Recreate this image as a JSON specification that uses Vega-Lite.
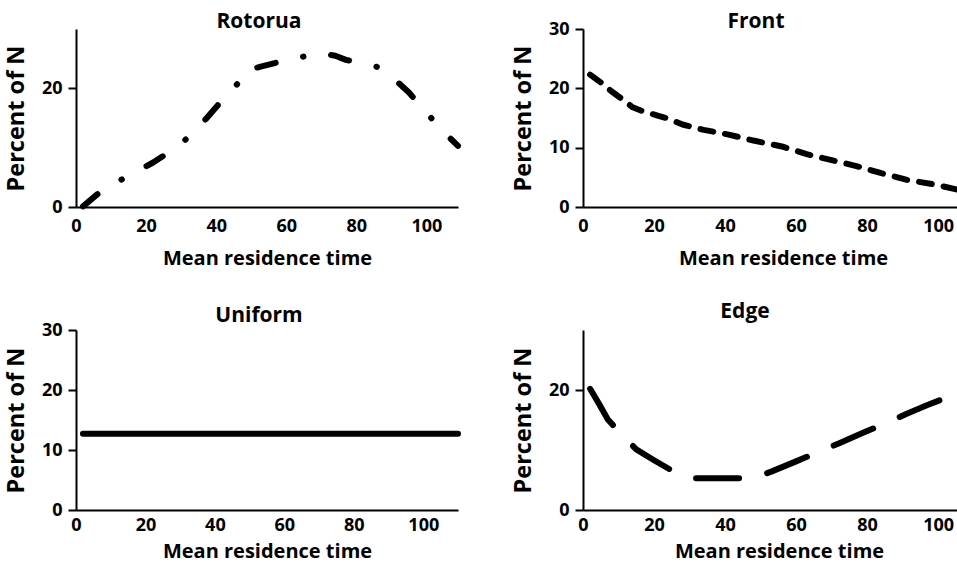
{
  "$schema": "https://vega.github.io/schema/vega-lite/v6.json",
  "background": "white",
  "padding": {"left": 4, "top": 10, "right": 0, "bottom": 0},
  "columns": 2,
  "spacing": {"row": 33, "column": 50},
  "config": {
    "font": "Open Sans",
    "view": {"stroke": null},
    "axis": {
      "grid": false,
      "domainColor": "black",
      "domainWidth": 2,
      "tickColor": "black",
      "tickWidth": 2,
      "tickSize": 8,
      "labelFont": "Open Sans",
      "labelFontWeight": "bold",
      "labelFontSize": 18,
      "labelColor": "black",
      "labelPadding": 6,
      "titleFont": "Open Sans",
      "titleFontWeight": "bold",
      "titleFontSize": 20,
      "titleColor": "black"
    },
    "axisX": {"ticks": false, "labelPadding": 10, "titlePadding": 13, "labelFlush": false},
    "axisY": {"titlePadding": 13, "titleFontSize": 23.5},
    "title": {"font": "Open Sans", "fontWeight": "bold", "fontSize": 21, "color": "black", "anchor": "middle", "frame": "group"},
    "line": {"color": "black", "strokeWidth": 6, "strokeCap": "round", "strokeJoin": "round"}
  },
  "datasets": {
    "curves": [
      {"panel": "Rotorua", "t": 2, "pct": 0.1},
      {"panel": "Rotorua", "t": 7, "pct": 2.6},
      {"panel": "Rotorua", "t": 12, "pct": 4.3},
      {"panel": "Rotorua", "t": 17, "pct": 5.9},
      {"panel": "Rotorua", "t": 22, "pct": 7.5},
      {"panel": "Rotorua", "t": 27, "pct": 9.4},
      {"panel": "Rotorua", "t": 32, "pct": 11.7},
      {"panel": "Rotorua", "t": 37, "pct": 14.8},
      {"panel": "Rotorua", "t": 42, "pct": 18.2},
      {"panel": "Rotorua", "t": 46, "pct": 20.7},
      {"panel": "Rotorua", "t": 48.5, "pct": 23.0},
      {"panel": "Rotorua", "t": 53, "pct": 23.7},
      {"panel": "Rotorua", "t": 57, "pct": 24.3},
      {"panel": "Rotorua", "t": 62, "pct": 25.0},
      {"panel": "Rotorua", "t": 67, "pct": 25.6},
      {"panel": "Rotorua", "t": 70, "pct": 25.9},
      {"panel": "Rotorua", "t": 74, "pct": 25.5},
      {"panel": "Rotorua", "t": 77, "pct": 24.8},
      {"panel": "Rotorua", "t": 82, "pct": 24.2},
      {"panel": "Rotorua", "t": 86, "pct": 23.6},
      {"panel": "Rotorua", "t": 90, "pct": 22.0},
      {"panel": "Rotorua", "t": 95, "pct": 19.3},
      {"panel": "Rotorua", "t": 100, "pct": 15.9},
      {"panel": "Rotorua", "t": 105, "pct": 12.6},
      {"panel": "Rotorua", "t": 109, "pct": 10.3},
      {"panel": "Front", "t": 2, "pct": 22.3},
      {"panel": "Front", "t": 5, "pct": 21.0},
      {"panel": "Front", "t": 8, "pct": 19.5},
      {"panel": "Front", "t": 11, "pct": 18.2},
      {"panel": "Front", "t": 14, "pct": 16.8},
      {"panel": "Front", "t": 17, "pct": 16.1},
      {"panel": "Front", "t": 21, "pct": 15.4},
      {"panel": "Front", "t": 24, "pct": 14.9},
      {"panel": "Front", "t": 28, "pct": 13.9},
      {"panel": "Front", "t": 34, "pct": 13.0},
      {"panel": "Front", "t": 41, "pct": 12.2},
      {"panel": "Front", "t": 48, "pct": 11.2},
      {"panel": "Front", "t": 56, "pct": 10.2},
      {"panel": "Front", "t": 63, "pct": 8.9},
      {"panel": "Front", "t": 70, "pct": 7.9},
      {"panel": "Front", "t": 77, "pct": 6.9},
      {"panel": "Front", "t": 84, "pct": 5.7},
      {"panel": "Front", "t": 91, "pct": 4.6},
      {"panel": "Front", "t": 99, "pct": 3.8},
      {"panel": "Front", "t": 107, "pct": 2.7},
      {"panel": "Uniform", "t": 2, "pct": 12.7},
      {"panel": "Uniform", "t": 110, "pct": 12.7},
      {"panel": "Edge", "t": 2, "pct": 20.2},
      {"panel": "Edge", "t": 4.6, "pct": 17.6},
      {"panel": "Edge", "t": 7, "pct": 15.1},
      {"panel": "Edge", "t": 10, "pct": 13.1},
      {"panel": "Edge", "t": 15, "pct": 10.1},
      {"panel": "Edge", "t": 20, "pct": 8.3},
      {"panel": "Edge", "t": 27, "pct": 5.9},
      {"panel": "Edge", "t": 30, "pct": 5.3},
      {"panel": "Edge", "t": 48, "pct": 5.3},
      {"panel": "Edge", "t": 53, "pct": 6.4},
      {"panel": "Edge", "t": 60, "pct": 8.1},
      {"panel": "Edge", "t": 66, "pct": 9.6},
      {"panel": "Edge", "t": 72, "pct": 11.1},
      {"panel": "Edge", "t": 79, "pct": 12.9},
      {"panel": "Edge", "t": 85, "pct": 14.4},
      {"panel": "Edge", "t": 91, "pct": 16.0},
      {"panel": "Edge", "t": 97, "pct": 17.5},
      {"panel": "Edge", "t": 104, "pct": 19.1}
    ]
  },
  "concat": [
    {
      "title": {"text": "Rotorua", "dx": -8, "offset": -2.5},
      "width": 382, "height": 178,
      "data": {"name": "curves"},
      "transform": [{"filter": "datum.panel === 'Rotorua'"}],
      "mark": {"type": "line", "strokeDash": [19, 28, 0.5, 28]},
      "encoding": {
        "x": {"field": "t", "type": "quantitative", "scale": {"domain": [0, 109], "nice": false}, "axis": {"values": [0, 20, 40, 60, 80, 100], "title": "Mean residence time"}},
        "y": {"field": "pct", "type": "quantitative", "scale": {"domain": [0, 30], "nice": false}, "axis": {"values": [0, 20], "title": "Percent of N"}}
      }
    },
    {
      "title": {"text": "Front", "dx": -17, "offset": -11.5},
      "width": 380, "height": 178,
      "data": {"name": "curves"},
      "transform": [{"filter": "datum.panel === 'Front'"}],
      "mark": {"type": "line", "strokeDash": [13, 12]},
      "encoding": {
        "x": {"field": "t", "type": "quantitative", "scale": {"domain": [0, 107], "nice": false}, "axis": {"values": [0, 20, 40, 60, 80, 100], "title": "Mean residence time", "titleX": 200}},
        "y": {"field": "pct", "type": "quantitative", "scale": {"domain": [0, 30], "nice": false}, "axis": {"values": [0, 10, 20, 30], "title": "Percent of N"}}
      }
    },
    {
      "title": {"text": "Uniform", "dx": -8, "offset": -4.5},
      "width": 382, "height": 180,
      "data": {"name": "curves"},
      "transform": [{"filter": "datum.panel === 'Uniform'"}],
      "mark": {"type": "line"},
      "encoding": {
        "x": {"field": "t", "type": "quantitative", "scale": {"domain": [0, 110], "nice": false}, "axis": {"values": [0, 20, 40, 60, 80, 100], "title": "Mean residence time", "labelPadding": 6, "titlePadding": 7}},
        "y": {"field": "pct", "type": "quantitative", "scale": {"domain": [0, 30], "nice": false}, "axis": {"values": [0, 10, 20, 30], "title": "Percent of N"}}
      }
    },
    {
      "title": {"text": "Edge", "dx": -28, "offset": 8},
      "width": 380, "height": 180,
      "data": {"name": "curves"},
      "transform": [{"filter": "datum.panel === 'Edge'"}],
      "mark": {"type": "line", "strokeDash": [43, 29]},
      "encoding": {
        "x": {"field": "t", "type": "quantitative", "scale": {"domain": [0, 107], "nice": false}, "axis": {"values": [0, 20, 40, 60, 80, 100], "title": "Mean residence time", "labelPadding": 6, "titlePadding": 7, "titleX": 196}},
        "y": {"field": "pct", "type": "quantitative", "scale": {"domain": [0, 30], "nice": false}, "axis": {"values": [0, 20], "title": "Percent of N"}}
      }
    }
  ]
}
